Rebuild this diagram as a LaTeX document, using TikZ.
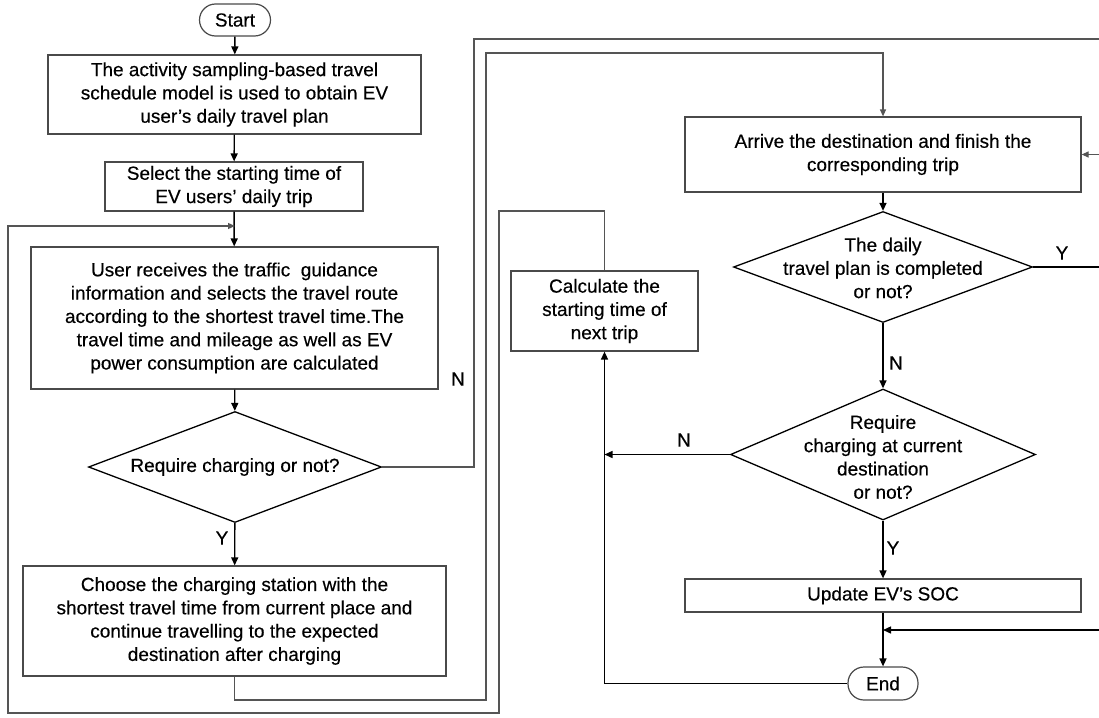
\documentclass[tikz,border=0pt]{standalone}
\usepackage{fontspec}
\setmainfont{Liberation Sans}[FakeBold=0.35]
\usetikzlibrary{shapes.geometric,arrows.meta}
\definecolor{boxc}{HTML}{4A4A4A}
\definecolor{loopc}{HTML}{555555}
\begin{document}
\begin{tikzpicture}[x=1pt,y=-1pt,
  base/.style={font=\fontsize{19}{23.3}\selectfont, align=center, inner sep=0pt},
  pbox/.style={base, draw=boxc, line width=1.2pt, rectangle},
  term/.style={base, draw=boxc, line width=1.2pt, rectangle, rounded corners=16pt},
  dia/.style={draw=black, line width=1.3pt, diamond, inner sep=0pt},
  lbl/.style={font=\fontsize{19}{23}\selectfont, inner sep=0pt},
  flow/.style={draw=black, line width=1.4pt, -{Triangle[length=8pt,width=7pt]}},
  plain/.style={draw=black, line width=1.4pt},
  loopl/.style={draw=loopc, line width=1.2pt},
  looparrow/.style={draw=loopc, line width=1.2pt, -{Triangle[length=7pt,width=6pt]}},
]
\fill[white] (0,0) rectangle (1099,717);
\useasboundingbox (0,0) rectangle (1099,717);
\clip (0,0) rectangle (1099,717);

% ---- left column ----
\node[term, minimum width=71pt, minimum height=32pt] (start) at (235,20) {Start};
\node[pbox, minimum width=373pt, minimum height=79pt] (b1) at (234.5,94.5)
  {The activity sampling-based travel\\ schedule model is used to obtain EV\\ user’s daily travel plan};
\node[pbox, minimum width=258pt, minimum height=49pt] (b2) at (234,186.5)
  {Select the starting time of\\ EV users’ daily trip};
\node[pbox, minimum width=407pt, minimum height=142pt] (b3) at (234.5,318)
  {User receives the traffic\ \ guidance\\ information and selects the travel route\\ according to the shortest travel time.The\\ travel time and mileage as well as EV\\ power consumption are calculated};
\node[dia, minimum width=293pt, minimum height=111pt] (d1) at (235,467) {};
\node[base] (d1t) at (235,467) {Require charging or not?};
\node[pbox, minimum width=423pt, minimum height=110pt] (b5) at (234.5,621)
  {Choose the charging station with the\\ shortest travel time from current place and\\ continue travelling to the expected\\ destination after charging};

% ---- right column ----
\node[pbox, minimum width=396pt, minimum height=75pt] (b6) at (883,154.5)
  {Arrive the destination and finish the\\ corresponding trip};
\node[dia, minimum width=299pt, minimum height=111pt] (d2) at (883,267) {};
\node[base] (d2t) at (883,268) {The daily\\ travel plan is completed\\ or not?};
\node[pbox, minimum width=187pt, minimum height=80pt] (calc) at (604.5,311)
  {Calculate the\\ starting time of\\ next trip};
\node[dia, minimum width=305pt, minimum height=131pt] (d3) at (883,454.5) {};
\node[base] (d3t) at (883,457) {Require\\ charging at current\\ destination\\ or not?};
\node[pbox, minimum width=396pt, minimum height=33pt] (soc) at (883,595.5) {Update EV’s SOC};
\node[term, minimum width=70pt, minimum height=33pt] (end) at (883,683.5) {End};

% ---- coordinates ----
\coordinate (j1) at (235,226);
\coordinate (j2) at (883,630);
\coordinate (j3) at (604.5,454.5);

% ---- main flow ----
\draw[flow] (start) -- (b1);
\draw[flow] (b1) -- (b2);
\draw[flow] (b2) -- (b3);
\draw[flow] (b3) -- (d1);
\draw[flow] (d1) -- (b5);
\draw[flow] (b6) -- (d2);
\draw[flow] (d2) -- (d3);
\draw[flow] (d3) -- (soc);
\draw[flow] (soc) -- (end);
\draw[flow] (d3.west) -- (j3);
\draw[flow] (end.west) -| (calc.south);

% ---- loops ----
\draw[loopl] (calc.north) |- (499,211) |- (8,713) |- (150,226);
\draw[looparrow] (150,226) -- (j1);
\draw[loopl] (b5.south) |- (486,700) |- (600,53);
\draw[looparrow] (600,53) -| (b6.north);
\draw[loopl] (d1.east) -| (474,39) -- (1112,39) |- (1090,154.5);
\draw[looparrow] (1090,154.5) -- (b6.east);
\draw[plain] (d2.east) -- (1106,267) |- (950,630);
\draw[flow] (950,630) -- (j2);

% ---- labels ----
\node[lbl] (ln1) at (458,379) {N};
\node[lbl] (ly1) at (222,538) {Y};
\node[lbl] (ly2) at (1062,253) {Y};
\node[lbl] (ln2) at (896,363) {N};
\node[lbl] (ln3) at (684,440) {N};
\node[lbl] (ly3) at (893,548) {Y};
\end{tikzpicture}
\end{document}
